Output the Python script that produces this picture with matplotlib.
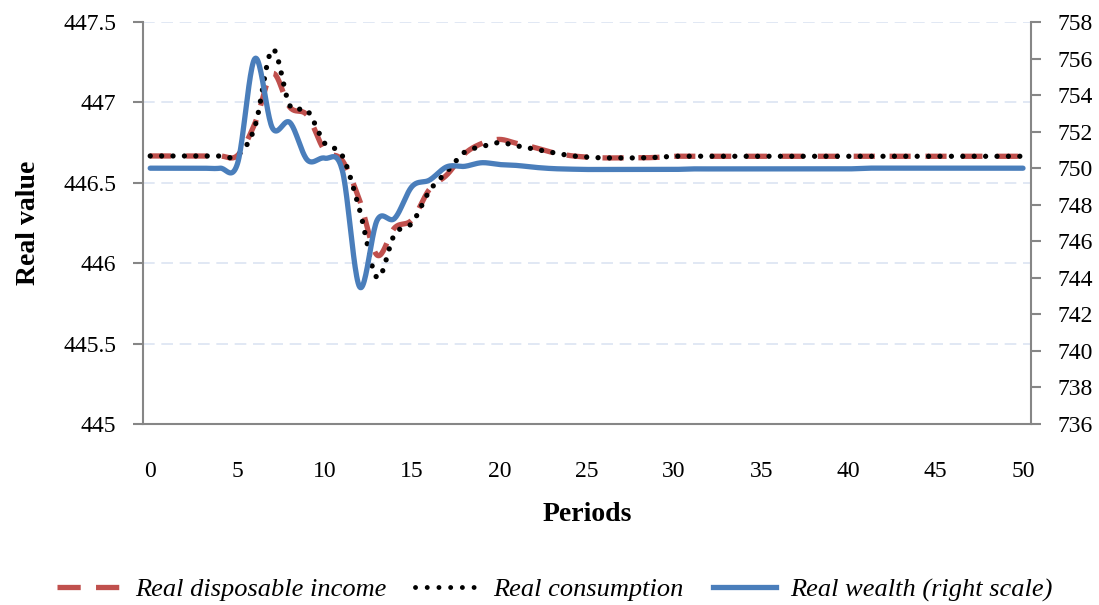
import numpy as np
import matplotlib
matplotlib.use("Agg")
import matplotlib.pyplot as plt
from matplotlib.lines import Line2D

plt.rcParams['font.family'] = ['Liberation Serif', 'DejaVu Serif']

periods = list(range(51))

income = [446.667] * 5 + [446.67, 446.87, 447.18, 446.97, 446.92, 446.70, 446.64, 446.39, 446.05,
                          446.22, 446.27, 446.46, 446.55, 446.68, 446.745, 446.77, 446.745, 446.72,
                          446.69, 446.67, 446.66, 446.655, 446.655, 446.655, 446.658] + [446.665] * 21

consumption = [446.667] * 5 + [446.67, 446.85, 447.33, 446.98, 446.95, 446.745, 446.67, 446.33, 445.91,
                               446.18, 446.25, 446.45, 446.57, 446.69, 446.725, 446.75, 446.73, 446.71,
                               446.69, 446.67, 446.66, 446.655, 446.655, 446.655, 446.658] + [446.665] * 21

wealth = [750.0] * 5 + [750.25, 756.0, 752.2, 752.5, 750.45, 750.55, 749.9, 743.5, 747.15, 747.25, 749.0,
                        749.35, 750.08, 750.1, 750.3, 750.2, 750.15, 750.05, 749.98, 749.95] + \
         [749.93] * 6 + [749.96] * 10 + [750.0] * 10

left_ticks = [445, 445.5, 446, 446.5, 447, 447.5]
left_labels = ['445', '445.5', '446', '446.5', '447', '447.5']
right_ticks = list(range(736, 759, 2))
x_ticks = list(range(0, 51, 5))


def smooth(x, y, n=24):
    # excel style smoothed line (bezier through the points)
    x = np.asarray(x, float)
    y = np.asarray(y, float)
    pts = np.column_stack([x, y])
    out = [pts[0]]
    t = np.linspace(0, 1, n)[1:, None]
    for i in range(len(pts) - 1):
        p0 = pts[max(i - 1, 0)]
        p1 = pts[i]
        p2 = pts[i + 1]
        p3 = pts[min(i + 2, len(pts) - 1)]
        c1 = p1 + (p2 - p0) / 6
        c2 = p2 - (p3 - p1) / 6
        seg = (1 - t) ** 3 * p1 + 3 * (1 - t) ** 2 * t * c1 + 3 * (1 - t) * t ** 2 * c2 + t ** 3 * p2
        out.extend(seg)
    out = np.array(out)
    return out[:, 0], out[:, 1]


red = '#c0504d'
blue = '#4a7ebb'
grey = '#868686'

fig = plt.figure(figsize=(10.99, 6.05), dpi=100)
ax = fig.add_axes([0.130, 0.2992, 0.808, 0.6644])
ax2 = ax.twinx()

for v in left_ticks[1:]:
    ax.axhline(v, color='#dce4f2', lw=1.2, ls=(0, (7, 4)), zorder=0)

xs, ys = smooth(periods, income)
ax.plot(xs, ys, color=red, lw=3.8, ls=(0, (4, 2.8)), zorder=2)
xs, ys = smooth(periods, consumption)
ax.plot(xs, ys, color='black', lw=3.8, ls=(0, (0.01, 2.15)), dash_capstyle='round', zorder=3)
xs, ys = smooth(periods, wealth)
ax2.plot(xs, ys, color=blue, lw=3.8, solid_capstyle='round')

ax.set_xlim(-0.42, 50.45)
ax.set_ylim(445, 447.5)
ax2.set_ylim(736, 758)

ax.set_yticks(left_ticks)
ax.set_yticklabels(left_labels)
ax2.set_yticks(right_ticks)
ax.set_xticks(x_ticks)

for a in (ax, ax2):
    a.spines['top'].set_visible(False)
    for s in a.spines.values():
        s.set_color(grey)
        s.set_linewidth(1.5)

ax.spines['right'].set_visible(False)
ax2.spines['left'].set_visible(False)
ax2.spines['bottom'].set_visible(False)

ax.tick_params(axis='y', length=7, width=1.5, color=grey, pad=12, labelsize=17)
ax2.tick_params(axis='y', length=7, width=1.5, color=grey, pad=12, labelsize=17)
ax.tick_params(axis='x', length=0, pad=27, labelsize=17)

ax.set_ylabel('Real value', fontsize=20, fontweight='bold', labelpad=16)
ax.set_xlabel('Periods', fontsize=20, fontweight='bold', labelpad=14)

handles = [
    Line2D([], [], color=red, lw=3.8, ls=(0, (4.4, 2.9))),
    Line2D([], [], color='black', lw=3.5, ls=(0, (0.01, 2.4)), dash_capstyle='round'),
    Line2D([], [], color=blue, lw=3.8),
]
labels = ['Real disposable income', 'Real consumption', 'Real wealth (right scale)']
fig.legend(handles, labels, loc='center', bbox_to_anchor=(0.505, 0.025), ncol=3, frameon=False,
           prop={'style': 'italic', 'size': 19}, handlelength=2.4, columnspacing=1.1, handletextpad=0.55)

fig.savefig('out.png', dpi=100)
